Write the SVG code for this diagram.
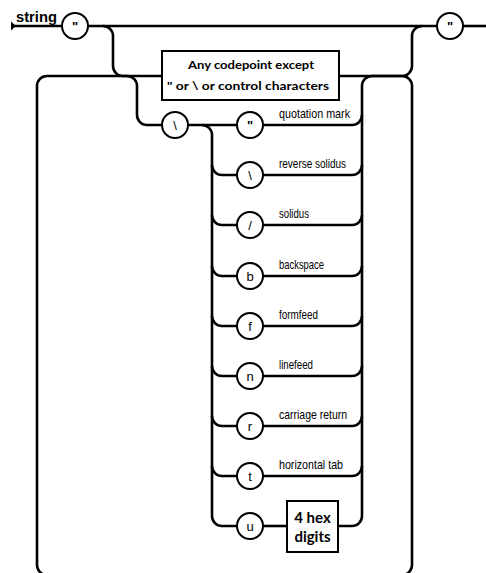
<svg xmlns="http://www.w3.org/2000/svg" width="486" height="573" viewBox="0 0 486 573">
<style>
.ln{fill:none;stroke:#000;stroke-width:2.6;stroke-linecap:butt}
.nd{fill:#fff;stroke:#000;stroke-width:2}
.ch{font-family:"Liberation Sans",Arial,sans-serif;font-size:13px;text-anchor:middle;fill:#000}
.lb{font-family:"Liberation Sans Narrow","Liberation Sans",Arial,sans-serif;font-size:13px;fill:#000}
.bx{font-family:"Lato","Liberation Sans",Arial,sans-serif;font-weight:bold;text-anchor:middle;fill:#000}
</style>
<rect width="486" height="573" fill="#fff"/>
<g id="connectors">
<polygon points="11,21.5 16,26 11,30.5" fill="#000"/>
<path class="ln" d="M13,26 H62"/>
<path class="ln" d="M88,26 H437"/>
<path class="ln" d="M463,26 H486"/>
<path class="ln" d="M103,26 A10,10 0 0 1 113,36 V66 A10,10 0 0 0 123,76 H162"/>
<path class="ln" d="M339,76 H402 A10,10 0 0 0 412,66 V36 A10,10 0 0 1 422,26"/>
<path class="ln" d="M402,76 A10,10 0 0 1 412,86 V565 A10,10 0 0 1 402,575 H47 A10,10 0 0 1 37,565 V86 A10,10 0 0 1 47,76 H127 A10,10 0 0 1 137,86 V115 A10,10 0 0 0 147,125 H162"/>
<path class="ln" d="M188,125 H237"/>
<path class="ln" d="M202,125 A10,10 0 0 1 212,135 V516 A10,10 0 0 0 222,526 H237"/>
<path class="ln" d="M212,165 A10,10 0 0 0 222,175 H237"/>
<path class="ln" d="M212,215 A10,10 0 0 0 222,225 H237"/>
<path class="ln" d="M212,266 A10,10 0 0 0 222,276 H237"/>
<path class="ln" d="M212,316 A10,10 0 0 0 222,326 H237"/>
<path class="ln" d="M212,366 A10,10 0 0 0 222,376 H237"/>
<path class="ln" d="M212,416 A10,10 0 0 0 222,426 H237"/>
<path class="ln" d="M212,466 A10,10 0 0 0 222,476 H237"/>
<path class="ln" d="M263,125 H352 A10,10 0 0 0 362,115"/>
<path class="ln" d="M263,175 H352 A10,10 0 0 0 362,165"/>
<path class="ln" d="M263,225 H352 A10,10 0 0 0 362,215"/>
<path class="ln" d="M263,276 H352 A10,10 0 0 0 362,266"/>
<path class="ln" d="M263,326 H352 A10,10 0 0 0 362,316"/>
<path class="ln" d="M263,376 H352 A10,10 0 0 0 362,366"/>
<path class="ln" d="M263,426 H352 A10,10 0 0 0 362,416"/>
<path class="ln" d="M263,476 H352 A10,10 0 0 0 362,466"/>
<path class="ln" d="M263,526 H287"/>
<path class="ln" d="M338,526 H352 A10,10 0 0 0 362,516 V86 A10,10 0 0 1 372,76 H402"/>
</g>
<g id="title"><text x="16" y="22" font-family="'Liberation Sans',Arial,sans-serif" font-weight="bold" font-size="15" textLength="41" lengthAdjust="spacingAndGlyphs">string</text></g>
<g id="open-quote"><circle class="nd" cx="75" cy="26" r="13"/><text class="ch" x="75" y="31" font-weight="bold">"</text></g>
<g id="close-quote"><circle class="nd" cx="450" cy="26" r="13"/><text class="ch" x="450" y="31" font-weight="bold">"</text></g>
<g id="any-codepoint"><rect class="nd" x="162" y="51" width="177" height="49"/>
<text class="bx" x="251" y="68.5" font-size="11.5" textLength="126" lengthAdjust="spacingAndGlyphs">Any codepoint except</text>
<text class="bx" x="248" y="90" font-size="11.5" textLength="162" lengthAdjust="spacingAndGlyphs">" or \ or control characters</text></g>
<g id="backslash"><circle class="nd" cx="175" cy="125" r="13"/><text class="ch" x="175" y="130" font-size="15">\</text></g>
<g id="esc-quote"><circle class="nd" cx="250" cy="125" r="13"/><text class="ch" x="250" y="130" font-weight="bold">"</text><text class="lb" x="279" y="117.5" textLength="71" lengthAdjust="spacingAndGlyphs">quotation mark</text></g>
<g id="esc-backslash"><circle class="nd" cx="250" cy="175" r="13"/><text class="ch" x="250" y="180" font-size="15">\</text><text class="lb" x="279" y="167.5" textLength="67" lengthAdjust="spacingAndGlyphs">reverse solidus</text></g>
<g id="esc-solidus"><circle class="nd" cx="250" cy="225" r="13"/><text class="ch" x="250" y="230" font-size="15">/</text><text class="lb" x="279" y="217.5" textLength="30" lengthAdjust="spacingAndGlyphs">solidus</text></g>
<g id="esc-b"><circle class="nd" cx="250" cy="276" r="13"/><text class="ch" x="250" y="280.5">b</text><text class="lb" x="279" y="268.5" textLength="45" lengthAdjust="spacingAndGlyphs">backspace</text></g>
<g id="esc-f"><circle class="nd" cx="250" cy="326" r="13"/><text class="ch" x="250" y="330.5">f</text><text class="lb" x="279" y="318.5" textLength="39" lengthAdjust="spacingAndGlyphs">formfeed</text></g>
<g id="esc-n"><circle class="nd" cx="250" cy="376" r="13"/><text class="ch" x="250" y="380.5">n</text><text class="lb" x="279" y="368.5" textLength="34" lengthAdjust="spacingAndGlyphs">linefeed</text></g>
<g id="esc-r"><circle class="nd" cx="250" cy="426" r="13"/><text class="ch" x="250" y="430.5">r</text><text class="lb" x="279" y="418.5" textLength="68" lengthAdjust="spacingAndGlyphs">carriage return</text></g>
<g id="esc-t"><circle class="nd" cx="250" cy="476" r="13"/><text class="ch" x="250" y="480.5">t</text><text class="lb" x="279" y="468.5" textLength="64" lengthAdjust="spacingAndGlyphs">horizontal tab</text></g>
<g id="esc-u"><circle class="nd" cx="250" cy="526" r="13"/><text class="ch" x="250" y="530.5">u</text></g>
<g id="hex-digits"><rect class="nd" x="287" y="501" width="51" height="51"/>
<text class="bx" x="312.5" y="522.5" font-size="15">4 hex</text>
<text class="bx" x="312.5" y="541.5" font-size="15">digits</text></g>
</svg>
